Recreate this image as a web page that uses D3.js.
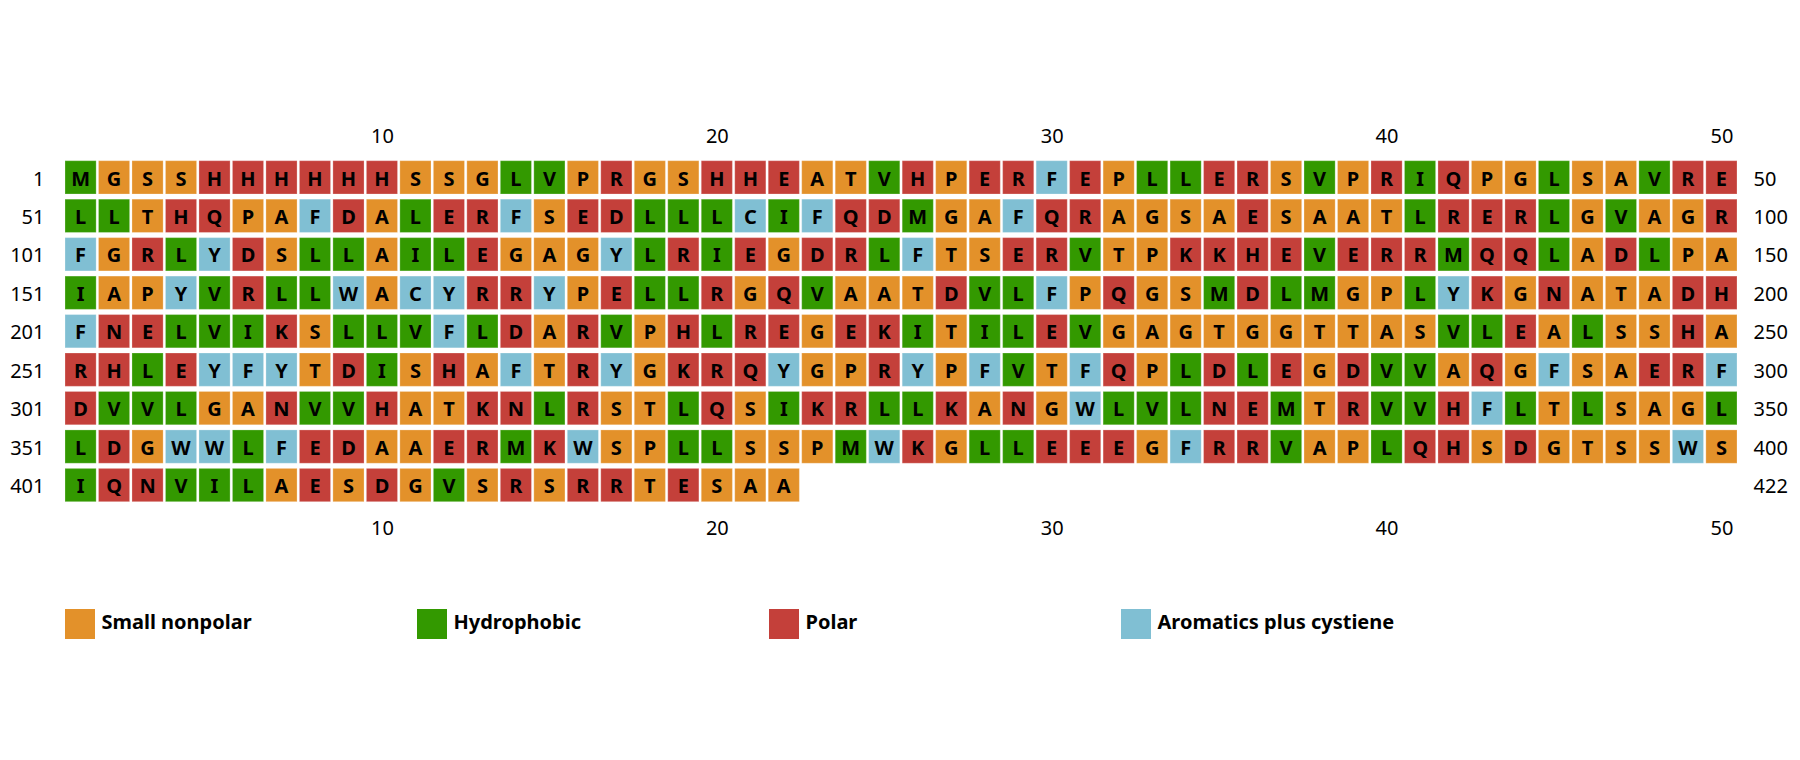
<!DOCTYPE html>
<html>
<head>
<meta charset="utf-8">
<script src="https://cdn.jsdelivr.net/npm/d3@7"></script>
<style>
  html, body { margin: 0; padding: 0; background: #fff; }
  svg { display: block; font-family: "Noto Sans", "Open Sans", sans-serif; }
</style>
</head>
<body>
<svg id="chart" width="1800" height="760"></svg>
<script>
const sequence =
  "MGSSHHHHHHSSGLVPRGSHHEATVHPERFEPLLERSVPRIQPGLSAVRE" +
  "LLTHQPAFDALERFSEDLLLCIFQDMGAFQRAGSAESAATLRERLGVAGR" +
  "FGRLYDSLLAILEGAGYLRIEGDRLFTSERVTPKKHEVERRMQQLADLPA" +
  "IAPYVRLLWACYRRYPELLRGQVAATDVLFPQGSMDLMGPLYKGNATADH" +
  "FNELVIKSLLVFLDARVPHLREGEKITILEVGAGTGGTTASVLEALSSHA" +
  "RHLEYFYTDISHAFTRYGKRQYGPRYPFVTFQPLDLEGDVVAQGFSAERF" +
  "DVVLGANVVHATKNLRSTLQSIKRLLKANGWLVLNEMTRVVHFLTLSAGL" +
  "LDGWWLFEDAAERMKWSPLLSSPMWKGLLEEEGFRRVAPLQHSDGTSSWS" +
  "IQNVILAESDGVSRSRRTESAA";
const residues = sequence.split("");

const categoryNames = ["Small nonpolar", "Hydrophobic", "Polar", "Aromatics plus cystiene"];
const categoryColors = ["#E3912A", "#339900", "#C4403A", "#80BFD3"];
const categoryResidues = ["GSATP", "MLVI", "HREDQNK", "FYWC"];

const columnTicks = [10, 20, 30, 40, 50];
const rowStartLabels = [1, 51, 101, 151, 201, 251, 301, 351, 401];
const rowEndLabels = [50, 100, 150, 200, 250, 300, 350, 400, 422];

const perRow = 50;
const nRows = Math.ceil(residues.length / perRow);
const FS = 20;

const svg = d3.select("#chart");

const x = d3.scaleBand()
  .domain(d3.range(1, perRow + 1))
  .range([65, 1737])
  .paddingInner(0.07)
  .paddingOuter(0);

const y = d3.scaleBand()
  .domain(d3.range(nRows))
  .range([160.7, 501.7])
  .paddingInner(0.134)
  .paddingOuter(0);

const color = d3.scaleOrdinal()
  .domain(categoryNames)
  .range(categoryColors);

function categoryOf(r) {
  return categoryNames[categoryResidues.findIndex(s => s.includes(r))];
}

const cells = residues.map((r, i) => ({
  residue: r,
  col: (i % perRow) + 1,
  row: Math.floor(i / perRow),
  cat: categoryOf(r)
}));

const baseOff = y.bandwidth() / 2 + 8.2;

const cell = svg.append("g").selectAll("g.cell")
  .data(cells)
  .join("g")
  .attr("class", "cell")
  .attr("transform", d => `translate(${x(d.col)},${y(d.row)})`);

cell.append("rect")
  .attr("width", x.bandwidth())
  .attr("height", y.bandwidth())
  .attr("fill", d => color(d.cat))
  .attr("stroke", "#fff")
  .attr("stroke-opacity", 0.25)
  .attr("stroke-width", 1);

cell.append("text")
  .attr("x", x.bandwidth() / 2)
  .attr("y", baseOff)
  .attr("text-anchor", "middle")
  .attr("font-size", FS)
  .attr("font-weight", "bold")
  .attr("fill", "#000")
  .text(d => d.residue);

// column axes (top and bottom)
const xCenter = d3.scalePoint().domain(x.domain())
  .range([x(1) + x.bandwidth() / 2, x(perRow) + x.bandwidth() / 2]);

const topAxis = d3.axisTop(xCenter).tickValues(columnTicks).tickSize(0).tickPadding(0);
const bottomAxis = d3.axisBottom(xCenter).tickValues(columnTicks).tickSize(0).tickPadding(0);

const topG = svg.append("g").attr("transform", "translate(0,142.7)").call(topAxis);
const botG = svg.append("g").attr("transform", "translate(0,535)").call(bottomAxis);
[topG, botG].forEach(a => {
  a.select(".domain").remove();
  a.selectAll("text")
    .attr("y", 0)
    .attr("dy", null)
    .attr("font-size", FS)
    .attr("font-family", "'Noto Sans', 'Open Sans', sans-serif")
    .attr("fill", "#000");
});

// row labels
svg.append("g").selectAll("text")
  .data(rowStartLabels)
  .join("text")
  .attr("x", 44.5)
  .attr("y", (d, i) => y(i) + baseOff)
  .attr("text-anchor", "end")
  .attr("font-size", FS)
  .text(d => d);

svg.append("g").selectAll("text")
  .data(rowEndLabels)
  .join("text")
  .attr("x", 1753.5)
  .attr("y", (d, i) => y(i) + baseOff)
  .attr("text-anchor", "start")
  .attr("font-size", FS)
  .text(d => d);

// legend
const legendX = d3.scalePoint().domain(categoryNames).range([65, 1121]);
const leg = svg.append("g").selectAll("g")
  .data(categoryNames)
  .join("g")
  .attr("transform", d => `translate(${legendX(d)},609)`);
leg.append("rect")
  .attr("width", 30)
  .attr("height", 30)
  .attr("fill", d => color(d));
leg.append("text")
  .attr("x", 36.5)
  .attr("y", 20.3)
  .attr("font-size", FS)
  .attr("font-weight", "bold")
  .text(d => d);
</script>
</body>
</html>
